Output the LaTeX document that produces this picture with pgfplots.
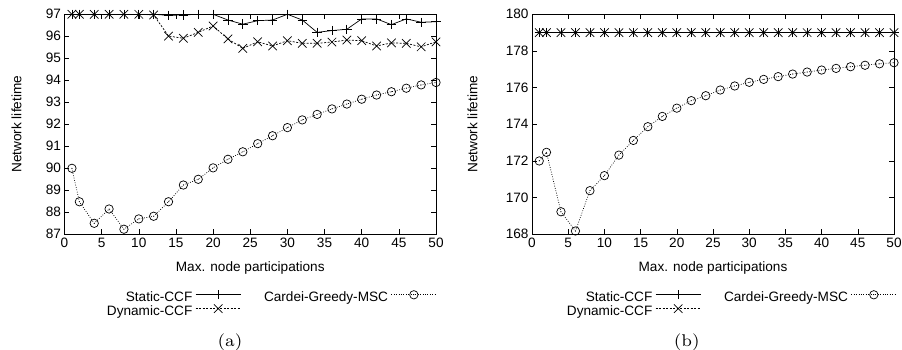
\documentclass[border=0pt]{standalone}
\usepackage{fontspec}
\setsansfont{Liberation Sans}
\newfontfamily\capfont{lmroman7-regular.otf}
\usepackage{pgfplots}
\pgfplotsset{compat=1.18}

\pgfdeclareplotmark{odot}{%
  \pgfpathcircle{\pgfpointorigin}{\pgfplotmarksize}\pgfusepathqstroke
  \pgfpathcircle{\pgfpointorigin}{0.5pt}\pgfusepathqfill}

\newcommand{\gpfont}{\sffamily\fontsize{13.6pt}{16pt}\selectfont}

\pgfplotsset{
  gp/.style={
    scale only axis,
    height=220pt,
    xmin=0, xmax=50, xtick={0,5,...,50},
    tick align=inside, major tick length=5pt,
    axis line style={line width=0.8pt},
    every tick/.style={black, line width=0.6pt},
    tick label style={font=\gpfont},
    label style={font=\gpfont},
    /pgf/number format/assume math mode=true,
    xlabel={Max. node participations},
    ylabel={Network lifetime},
    xlabel style={at={(axis description cs:0.5,-0.1545)}, anchor=center},
    legend columns=2,
    legend cell align=right,
    legend plot pos=right,
    legend style={draw=none, fill=none, font=\gpfont, inner sep=0pt, outer sep=0pt,
      row sep=0pt,
      nodes={inner sep=0pt, text height=9.6pt, text depth=2.7pt},
      /tikz/every odd column/.append style={column sep=3pt},
      /tikz/every even column/.append style={column sep=23pt}},
    legend image code/.code={\draw[##1, mark repeat=2, mark phase=2] plot coordinates {(0pt,3.5pt) (22.5pt,3.5pt) (45pt,3.5pt)};},
  },
  sstatic/.style={black, line width=0.7pt, mark=+, mark size=4.7pt, mark options={solid}},
  sdyn/.style={black, line width=0.7pt, dash pattern=on 2pt off 1.5pt, mark=x, mark size=6pt, mark options={solid}},
  scard/.style={black, line width=0.7pt, dash pattern=on 0.8pt off 1.6pt, mark=odot, mark size=4.2pt, mark options={solid}},
}

\begin{document}
\begin{tikzpicture}
\useasboundingbox (0,0) rectangle (902pt,350pt);

% ---------------- (a) ----------------
\begin{axis}[gp,
  at={(64.5pt,115.7pt)}, anchor=south west, width=371.5pt,
  ymin=87, ymax=97, ytick={87,88,...,97},
  ylabel style={at={(axis description cs:-0.129,0.5)}, anchor=center},
  legend style={at={(1.0019,-0.2536)}, anchor=north east},
]
\addplot[sstatic] coordinates {
(1,97) (2,97) (4,97) (6,97) (8,97) (10,97) (12,97) (14,96.95) (16,96.97) (18,97)
(20,97) (22,96.74) (24,96.55) (26,96.71) (28,96.74) (30,97.0) (32,96.74) (34,96.18)
(36,96.26) (38,96.32) (40,96.79) (42,96.79) (44,96.53) (46,96.79) (48,96.64) (50,96.66)};
\addlegendentry{Static-CCF}
\addplot[scard] coordinates {
(1,90.0) (2,88.48) (4,87.5) (6,88.15) (8,87.23) (10,87.7) (12,87.82) (14,88.48)
(16,89.24) (18,89.5) (20,90.02) (22,90.41) (24,90.75) (26,91.12) (28,91.48) (30,91.85)
(32,92.2) (34,92.45) (36,92.7) (38,92.92) (40,93.14) (42,93.33) (44,93.48) (46,93.64)
(48,93.79) (50,93.9)};
\addlegendentry{Cardei-Greedy-MSC}
\addplot[sdyn] coordinates {
(1,97) (2,97) (4,97) (6,97) (8,97) (10,97) (12,96.97) (14,96.01) (16,95.91) (18,96.18)
(20,96.47) (22,95.88) (24,95.45) (26,95.75) (28,95.56) (30,95.8) (32,95.68) (34,95.68)
(36,95.74) (38,95.83) (40,95.8) (42,95.56) (44,95.7) (46,95.68) (48,95.52) (50,95.75)};
\addlegendentry{Dynamic-CCF}
\end{axis}

% ---------------- (b) ----------------
\begin{axis}[gp,
  at={(532pt,115.7pt)}, anchor=south west, width=362pt,
  ymin=168, ymax=180, ytick={168,170,...,180},
  ylabel style={at={(axis description cs:-0.164,0.5)}, anchor=center},
  legend style={at={(1.0074,-0.2536)}, anchor=north east},
]
\addplot[sstatic] coordinates {
(1,179) (2,179) (4,179) (6,179) (8,179) (10,179) (12,179) (14,179) (16,179) (18,179)
(20,179) (22,179) (24,179) (26,179) (28,179) (30,179) (32,179) (34,179) (36,179)
(38,179) (40,179) (42,179) (44,179) (46,179) (48,179) (50,179)};
\addlegendentry{Static-CCF}
\addplot[scard] coordinates {
(1,172.0) (2,172.47) (4,169.23) (6,168.18) (8,170.38) (10,171.2) (12,172.32) (14,173.12)
(16,173.87) (18,174.43) (20,174.88) (22,175.29) (24,175.56) (26,175.87) (28,176.09)
(30,176.29) (32,176.45) (34,176.6) (36,176.74) (38,176.85) (40,176.96) (42,177.05)
(44,177.14) (46,177.22) (48,177.3) (50,177.36)};
\addlegendentry{Cardei-Greedy-MSC}
\addplot[sdyn] coordinates {
(1,179) (2,179) (4,179) (6,179) (8,179) (10,179) (12,179) (14,179) (16,179) (18,179)
(20,179) (22,179) (24,179) (26,179) (28,179) (30,179) (32,179) (34,179) (36,179)
(38,179) (40,179) (42,179) (44,179) (46,179) (48,179) (50,179)};
\addlegendentry{Dynamic-CCF}
\end{axis}

\node[anchor=base, inner sep=0pt] at (230pt,3.5pt) {\capfont\fontsize{17pt}{20pt}\selectfont (a)};
\node[anchor=base, inner sep=0pt] at (686.7pt,3.5pt) {\capfont\fontsize{17pt}{20pt}\selectfont (b)};
\end{tikzpicture}
\end{document}
